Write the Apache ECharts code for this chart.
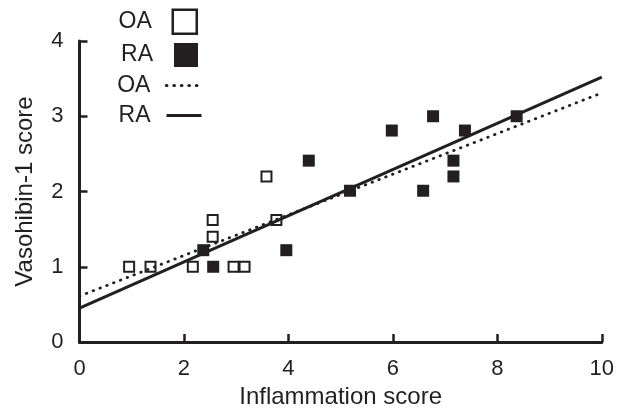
<!DOCTYPE html>
<html><head><meta charset="utf-8">
<script src="https://cdn.jsdelivr.net/npm/echarts@6/dist/echarts.min.js"></script>
<style>html,body{margin:0;padding:0;background:#fff}#c{width:617px;height:414px}</style>
</head><body><div id="c"></div>
<script>
// Data
const oaPoints = [[0.95,1.0],[1.36,1.0],[2.17,1.0],[2.55,1.62],[2.55,1.40],[2.95,1.0],[3.16,1.0],[3.58,2.2],[3.77,1.62]];
const raPoints = [[2.37,1.22],[2.56,1.0],[3.96,1.22],[4.39,2.41],[5.18,2.01],[5.98,2.81],[6.58,2.01],[6.77,3.0],[7.16,2.41],[7.16,2.2],[7.38,2.81],[8.37,3.0]];
const oaFit = [[0,0.61],[10,3.31]];
const raFit = [[0,0.45],[10,3.52]];
const xLabel = 'Inflammation score';
const yLabel = 'Vasohibin-1 score';
const groupNames = ['OA','RA'];

const INK = '#231f20';
const FONT = 'Liberation Sans, Arial, sans-serif';
const chart = echarts.init(document.getElementById('c'));

function legendItem(name, right, top, w, h, pad, extra) {
  return Object.assign({
    right: right, top: top, padding: 0, orient: 'vertical', align: 'right',
    itemWidth: w, itemHeight: h, selectedMode: false,
    data: [name],
    formatter: n => n.replace(' fit',''),
    textStyle: {fontFamily: FONT, fontSize: 23, color: INK, padding: [0, pad, 0, 0]}
  }, extra || {});
}

chart.setOption({
  animation: false,
  backgroundColor: '#fff',
  grid: {left: 79.5, right: 14.5, top: 41, bottom: 72},
  legend: [
    legendItem(groupNames[0], 419, 8.5, 24, 24, 16, {itemStyle: {borderWidth: 2.5}}),
    legendItem(groupNames[1], 419, 43, 24, 24, 16),
    legendItem(groupNames[0] + ' fit', 414, 74, 35, 14, 11,
      {itemStyle: {opacity: 0}, lineStyle: {width: 3.2, type: [0.5, 7], cap: 'round', color: INK}}),
    legendItem(groupNames[1] + ' fit', 414, 104, 35, 14, 11,
      {itemStyle: {opacity: 0}, lineStyle: {width: 3, color: INK}})
  ],
  xAxis: {
    type: 'value', min: 0, max: 10, interval: 2,
    name: xLabel, nameLocation: 'middle', nameGap: 32,
    nameTextStyle: {fontFamily: FONT, fontSize: 24, color: INK},
    axisLine: {show: true, onZero: false, lineStyle: {color: INK, width: 3}},
    axisTick: {show: true, inside: true, length: 8, lineStyle: {color: INK, width: 2.5}},
    axisLabel: {margin: 16, fontFamily: FONT, fontSize: 22, color: INK},
    splitLine: {show: false}
  },
  yAxis: {
    type: 'value', min: 0, max: 4, interval: 1,
    name: yLabel, nameLocation: 'middle', nameGap: 42, nameRotate: 90,
    nameTextStyle: {fontFamily: FONT, fontSize: 24, color: INK},
    axisLine: {show: true, onZero: false, lineStyle: {color: INK, width: 3}},
    axisTick: {show: true, inside: true, length: 8, lineStyle: {color: INK, width: 2.5}},
    axisLabel: {margin: 16, fontFamily: FONT, fontSize: 22, color: INK},
    splitLine: {show: false}
  },
  series: [
    {name: groupNames[0], type: 'scatter', data: oaPoints, symbol: 'rect', symbolSize: 10, z: 2,
     itemStyle: {color: '#fff', borderColor: INK, borderWidth: 2, opacity: 1}},
    {name: groupNames[1], type: 'scatter', data: raPoints, symbol: 'rect', symbolSize: 12, z: 2,
     itemStyle: {color: INK, borderWidth: 0, opacity: 1}},
    {name: groupNames[0] + ' fit', type: 'line', data: oaFit, symbol: 'none', z: 3,
     itemStyle: {color: INK},
     lineStyle: {color: INK, width: 2.8, type: [0.5, 6.8], cap: 'round'}},
    {name: groupNames[1] + ' fit', type: 'line', data: raFit, symbol: 'none', z: 3,
     itemStyle: {color: INK},
     lineStyle: {color: INK, width: 3}}
  ]
});
</script></body></html>
